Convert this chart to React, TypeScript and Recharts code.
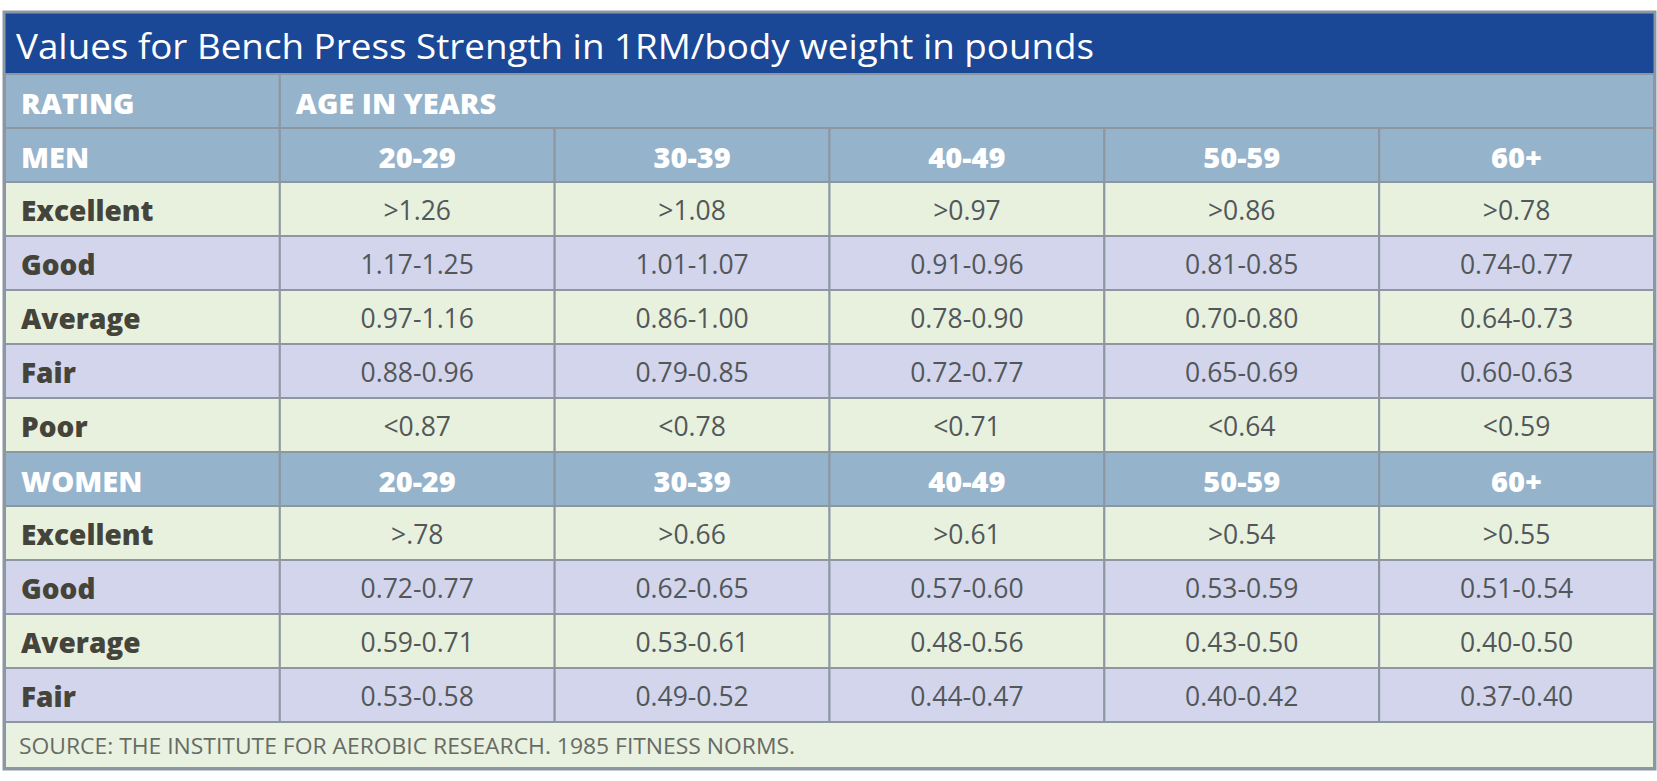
import { ComposedChart, Scatter, XAxis, YAxis, Customized } from "recharts"

const title = "Values for Bench Press Strength in 1RM/body weight in pounds"
const source = "SOURCE: THE INSTITUTE FOR AEROBIC RESEARCH. 1985 FITNESS NORMS."

const ageGroups = ["20-29", "30-39", "40-49", "50-59", "60+"]

const menRatings = ["Excellent", "Good", "Average", "Fair", "Poor"]
const menExcellent = [">1.26", ">1.08", ">0.97", ">0.86", ">0.78"]
const menGood = ["1.17-1.25", "1.01-1.07", "0.91-0.96", "0.81-0.85", "0.74-0.77"]
const menAverage = ["0.97-1.16", "0.86-1.00", "0.78-0.90", "0.70-0.80", "0.64-0.73"]
const menFair = ["0.88-0.96", "0.79-0.85", "0.72-0.77", "0.65-0.69", "0.60-0.63"]
const menPoor = ["<0.87", "<0.78", "<0.71", "<0.64", "<0.59"]

const womenRatings = ["Excellent", "Good", "Average", "Fair"]
const womenExcellent = [">.78", ">0.66", ">0.61", ">0.54", ">0.55"]
const womenGood = ["0.72-0.77", "0.62-0.65", "0.57-0.60", "0.53-0.59", "0.51-0.54"]
const womenAverage = ["0.59-0.71", "0.53-0.61", "0.48-0.56", "0.43-0.50", "0.40-0.50"]
const womenFair = ["0.53-0.58", "0.49-0.52", "0.44-0.47", "0.40-0.42", "0.37-0.40"]

const menRows = [menExcellent, menGood, menAverage, menFair, menPoor]
const womenRows = [womenExcellent, womenGood, womenAverage, womenFair]

// chart geometry
const W = 1657
const H = 781
const LEFT = 5
const RIGHT = 1654
const TITLE_TOP = 13
const TOP = 74
const BOTTOM = 722
const SOURCE_BOTTOM = 768
const CELL_W = (RIGHT - LEFT) / 6
const CELL_H = (BOTTOM - TOP) / 12

const HEADER = "#95b3cb"
const GREEN = "#e8f1de"
const LAVENDER = "#d3d5ec"
const GRID = "#8c97a1"
const FONT = "'Open Sans', 'Noto Sans', sans-serif"

type Cell = {
  col: string
  row: string
  text: string
  kind: "head" | "headCenter" | "label" | "value"
  fill: string
  span: number
}

const cells: Cell[] = []
cells.push({ col: "RATING", row: "rating", text: "RATING", kind: "head", fill: HEADER, span: 1 })
cells.push({ col: ageGroups[0], row: "rating", text: "AGE IN YEARS", kind: "head", fill: HEADER, span: 5 })

function addGroup(name: string, ratings: string[], rows: string[][]) {
  const hdr = name.toLowerCase()
  cells.push({ col: "RATING", row: hdr, text: name, kind: "head", fill: HEADER, span: 1 })
  ageGroups.forEach((g) =>
    cells.push({ col: g, row: hdr, text: g, kind: "headCenter", fill: HEADER, span: 1 })
  )
  ratings.forEach((r, i) => {
    const row = hdr + "-" + r
    const fill = i % 2 === 0 ? GREEN : LAVENDER
    cells.push({ col: "RATING", row, text: r, kind: "label", fill, span: 1 })
    rows[i].forEach((v, j) =>
      cells.push({ col: ageGroups[j], row, text: v, kind: "value", fill, span: 1 })
    )
  })
}
addGroup("MEN", menRatings, menRows)
addGroup("WOMEN", womenRatings, womenRows)

function TableCell(props: any) {
  const { cx, cy } = props
  const c: Cell = props.payload ?? props
  const x0 = cx - CELL_W / 2
  const y0 = cy - CELL_H / 2
  const w = CELL_W * c.span
  const left = c.kind === "head" || c.kind === "label"
  const isValue = c.kind === "value"
  const color = c.kind === "label" ? "#45443a" : isValue ? "#52575a" : "#ffffff"
  return (
    <g>
      <rect x={x0} y={y0} width={w} height={CELL_H} fill={c.fill} stroke={GRID} strokeWidth={2} />
      <text
        x={left ? x0 + 16 : cx}
        y={cy + 1}
        textAnchor={left ? "start" : "middle"}
        dominantBaseline="central"
        fontFamily={FONT}
        fontSize={isValue ? 26.5 : c.kind === "label" ? 28 : 29}
        fontWeight={isValue ? 400 : 800}
        fill={color}
      >
        {c.text}
      </text>
    </g>
  )
}

function Frame() {
  return (
    <g>
      <rect x={LEFT} y={TITLE_TOP} width={RIGHT - LEFT} height={TOP - TITLE_TOP - 1} fill="#1a4796" />
      <text
        x={16}
        y={TITLE_TOP + 32}
        dominantBaseline="central"
        fontFamily={FONT}
        fontSize={35}
        fill="#ffffff"
        textLength={1078}
        lengthAdjust="spacingAndGlyphs"
      >
        {title}
      </text>
      <rect x={LEFT} y={BOTTOM} width={RIGHT - LEFT} height={SOURCE_BOTTOM - BOTTOM} fill="#e9f1e0" stroke={GRID} strokeWidth={2} />
      <text
        x={19}
        y={BOTTOM + 24}
        dominantBaseline="central"
        fontFamily={FONT}
        fontSize={21}
        fill="#676b66"
        textLength={776}
        lengthAdjust="spacingAndGlyphs"
      >
        {source}
      </text>
      <rect x={LEFT - 1} y={TITLE_TOP - 1} width={RIGHT - LEFT + 2} height={SOURCE_BOTTOM - TITLE_TOP + 2} fill="none" stroke={GRID} strokeWidth={3} />
    </g>
  )
}

export default function App() {
  return (
    <div style={{ position: "absolute", left: 0, top: 0, background: "#fff" }}>
      <ComposedChart
        width={W}
        height={H}
        data={cells}
        margin={{ top: TOP, right: W - RIGHT, bottom: H - BOTTOM, left: LEFT }}
      >
        <XAxis
          dataKey="col"
          type="category"
          allowDuplicatedCategory={false}
          padding={{ left: CELL_W / 2, right: CELL_W / 2 }}
          hide
        />
        <YAxis
          dataKey="row"
          type="category"
          allowDuplicatedCategory={false}
          padding={{ top: CELL_H / 2, bottom: CELL_H / 2 }}
          reversed
          hide
        />
        <Customized component={Frame} />
        <Scatter data={cells} dataKey="row" shape={TableCell} isAnimationActive={false} />
      </ComposedChart>
    </div>
  )
}
